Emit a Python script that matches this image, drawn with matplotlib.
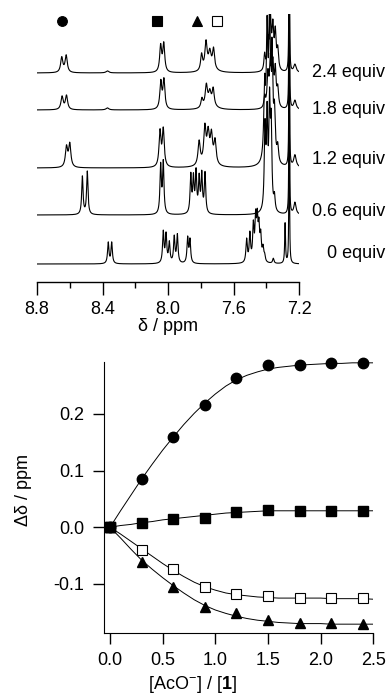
import numpy as np
import matplotlib
matplotlib.use("Agg")
import matplotlib.pyplot as plt
import matplotlib.transforms as mtransforms

plt.rcParams['font.family'] = ['Liberation Sans', 'DejaVu Sans']
plt.rcParams['mathtext.fontset'] = 'custom'
plt.rcParams['mathtext.rm'] = 'Liberation Sans'
plt.rcParams['mathtext.bf'] = 'Liberation Sans:bold'
plt.rcParams['axes.unicode_minus'] = False

# ---- NMR spectra: peak lists (ppm, height, half width) per titration step
equiv_labels = ['2.4 equiv', '1.8 equiv', '1.2 equiv', '0.6 equiv', '0 equiv']
baselines = [209, 172, 114, 67, 18]
label_y = [209, 172, 122, 70, 28]
peaks_24 = [(8.649, 15, .008), (8.622, 17, .008), (8.37, 2, .01),
            (8.045, 26, .007), (8.026, 28, .007),
            (7.795, 16, .007), (7.768, 27, .008), (7.745, 14, .008), (7.722, 19, .007),
            (7.74, 6, .03),
            (7.41, 16, .005), (7.39, 28, .006), (7.375, 50, .006), (7.36, 40, .006),
            (7.345, 36, .006), (7.33, 20, .006), (7.26, 300, .0015), (7.225, 8, .009)]
peaks_18 = [(8.647, 13, .008), (8.620, 14, .008), (8.37, 2, .01),
            (8.044, 27, .007), (8.025, 29, .007),
            (7.793, 9, .007), (7.766, 21, .008), (7.745, 11, .008), (7.724, 16, .007),
            (7.74, 6, .03),
            (7.41, 11, .005), (7.39, 32, .006), (7.375, 45, .006), (7.36, 40, .006),
            (7.345, 36, .006), (7.33, 18, .006), (7.26, 300, .0015), (7.225, 9, .009)]
peaks_12 = [(8.62, 20, .008), (8.60, 23, .008),
            (8.049, 35, .007), (8.029, 37, .007),
            (7.81, 24, .008), (7.775, 35, .008), (7.755, 26, .008), (7.735, 26, .008), (7.713, 23, .008),
            (7.75, 6, .03),
            (7.41, 70, .006), (7.395, 120, .006), (7.38, 130, .006), (7.365, 100, .006),
            (7.35, 45, .006), (7.33, 16, .006), (7.26, 300, .0015), (7.225, 12, .009)]
peaks_06 = [(8.523, 38, .005), (8.493, 43, .005),
            (8.045, 48, .005), (8.029, 51, .005),
            (7.861, 38, .005), (7.845, 34, .005), (7.829, 40, .005), (7.81, 34, .005),
            (7.794, 38, .005), (7.774, 40, .005),
            (7.408, 80, .005), (7.395, 90, .005), (7.38, 100, .005), (7.37, 80, .005),
            (7.35, 14, .005), (7.26, 300, .0015), (7.225, 12, .008)]
peaks_00 = [(8.365, 21, .005), (8.344, 21, .005),
            (8.029, 31, .005), (8.012, 28, .005), (7.992, 20, .005), (7.962, 26, .005),
            (7.943, 28, .005), (7.88, 25, .005), (7.866, 23, .005),
            (7.52, 23, .005), (7.50, 28, .005), (7.479, 35, .005), (7.465, 40, .005),
            (7.455, 38, .005), (7.445, 31, .005), (7.434, 24, .005), (7.42, 13, .005),
            (7.41, 6, .005), (7.357, 5, .005), (7.285, 40, .003), (7.26, 300, .0015)]
spectra = [peaks_24, peaks_18, peaks_12, peaks_06, peaks_00]
marker_ppm = [8.65, 8.07, 7.82, 7.70]
marker_style = [('o', 'k'), ('s', 'k'), ('^', 'k'), ('s', 'w')]

# ---- titration data
conc = [0.0, 0.3, 0.6, 0.9, 1.2, 1.5, 1.8, 2.1, 2.4]
d_circle = [0.0, 0.085, 0.160, 0.216, 0.263, 0.286, 0.286, 0.289, 0.289]
d_square = [0.0, 0.007, 0.015, 0.017, 0.027, 0.031, 0.028, 0.029, 0.029]
d_open = [0.0, -0.041, -0.074, -0.106, -0.118, -0.121, -0.125, -0.125, -0.125]
d_tri = [0.0, -0.061, -0.105, -0.141, -0.152, -0.163, -0.169, -0.169, -0.170]

fit_x = [0.0, 0.1, 0.2, 0.3, 0.4, 0.5, 0.6, 0.7, 0.8, 0.9, 1.0, 1.1, 1.2, 1.3,
         1.4, 1.5, 1.6, 1.7, 1.8, 1.9, 2.0, 2.1, 2.2, 2.3, 2.4, 2.5]
fit_circle = [0.0, 0.029, 0.057, 0.085, 0.111, 0.136, 0.159, 0.181, 0.201, 0.219,
              0.235, 0.249, 0.260, 0.268, 0.274, 0.279, 0.282, 0.284, 0.286, 0.287,
              0.288, 0.289, 0.289, 0.290, 0.290, 0.290]
fit_square = [0.0, 0.003, 0.005, 0.008, 0.010, 0.013, 0.015, 0.017, 0.019, 0.021,
              0.023, 0.025, 0.026, 0.027, 0.028, 0.029, 0.029, 0.029, 0.029, 0.029,
              0.029, 0.029, 0.029, 0.029, 0.029, 0.029]
fit_open = [0.0, -0.012, -0.025, -0.038, -0.051, -0.064, -0.076, -0.087, -0.097, -0.105,
            -0.111, -0.116, -0.119, -0.121, -0.123, -0.124, -0.125, -0.125, -0.125, -0.125,
            -0.125, -0.126, -0.126, -0.126, -0.126, -0.127]
fit_tri = [0.0, -0.019, -0.039, -0.058, -0.074, -0.089, -0.103, -0.116, -0.128, -0.138,
           -0.146, -0.152, -0.157, -0.161, -0.164, -0.166, -0.168, -0.169, -0.170, -0.170,
           -0.170, -0.171, -0.171, -0.171, -0.171, -0.171]

fig = plt.figure(figsize=(3.9, 6.98), dpi=100)

# ---------- top: spectra
ax1 = fig.add_axes([0.0949, 0.596, 0.6718, 0.384])
label_tr = mtransforms.blended_transform_factory(fig.transFigure, ax1.transData)
ppm = np.linspace(8.8, 7.2, 8000)
for base, peaks, lab, ly in zip(baselines, spectra, equiv_labels, label_y):
    y = np.full_like(ppm, base, dtype=float)
    for p, h, w in peaks:
        y += h * w**2 / (w**2 + (ppm - p)**2)
    ax1.plot(ppm, y, color='k', lw=0.8)
    fig.text(385 / 390, ly, lab, transform=label_tr,
             ha='right', va='center', fontsize=13)
for p, (m, fc) in zip(marker_ppm, marker_style):
    ax1.plot(p, 261, marker=m, ms=7, mfc=fc, mec='k', mew=0.8, clip_on=False)
ax1.set_xlim(8.8, 7.2)
ax1.set_ylim(0, 268)
for s in ['left', 'right', 'top']:
    ax1.spines[s].set_visible(False)
ax1.spines['bottom'].set_linewidth(1.0)
ax1.set_yticks([])
ax1.set_xticks([8.8, 8.4, 8.0, 7.6, 7.2])
ax1.set_xticks([8.6, 8.2, 7.8, 7.4], minor=True)
ax1.tick_params(axis='x', which='major', direction='out', length=9, width=1.0,
                labelsize=13, pad=5)
ax1.tick_params(axis='x', which='minor', direction='out', length=4, width=1.0)
ax1.set_xlabel('δ / ppm', fontsize=13, labelpad=0)

# ---------- bottom: titration curves
ax2 = fig.add_axes([0.2667, 0.0936, 0.6904, 0.3874])
ax2.plot(fit_x, fit_circle, color='k', lw=0.7)
ax2.plot(fit_x, fit_square, color='k', lw=0.7)
ax2.plot(fit_x, fit_open, color='k', lw=0.7)
ax2.plot(fit_x, fit_tri, color='k', lw=0.7)
ax2.plot(conc, d_circle, 'o', ms=7.5, color='k', ls='none', clip_on=False)
ax2.plot(conc, d_square, 's', ms=7, color='k', ls='none', clip_on=False)
ax2.plot(conc, d_tri, '^', ms=7.5, color='k', ls='none', clip_on=False)
ax2.plot(conc, d_open, 's', ms=7, mfc='w', mec='k', mew=0.8, ls='none', clip_on=False)
ax2.plot(conc[0], d_square[0], 's', ms=7, color='k')
ax2.set_xlim(-0.057, 2.5)
ax2.set_ylim(-0.186, 0.291)
ax2.spines['top'].set_visible(False)
ax2.spines['right'].set_visible(False)
ax2.set_xticks([0.0, 0.5, 1.0, 1.5, 2.0, 2.5])
ax2.set_xticklabels(['0.0', '0.5', '1.0', '1.5', '2.0', '2.5'])
ax2.set_yticks([-0.1, 0.0, 0.1, 0.2])
ax2.set_yticklabels(['-0.1', '0.0', '0.1', '0.2'])
ax2.tick_params(direction='out', length=8, width=1.0, labelsize=13, pad=6)
ax2.set_xlabel(r'[AcO$^{-}$] / [$\mathbf{1}$]', fontsize=13)
ax2.set_ylabel('Δδ / ppm', fontsize=13)
ax2.xaxis.set_label_coords(0.33, -0.19)
ax2.xaxis.label.set_verticalalignment('center')
ax2.yaxis.set_label_coords(-0.30, 0.528)
ax2.yaxis.label.set_verticalalignment('center')

fig.savefig('out.png', dpi=100)
